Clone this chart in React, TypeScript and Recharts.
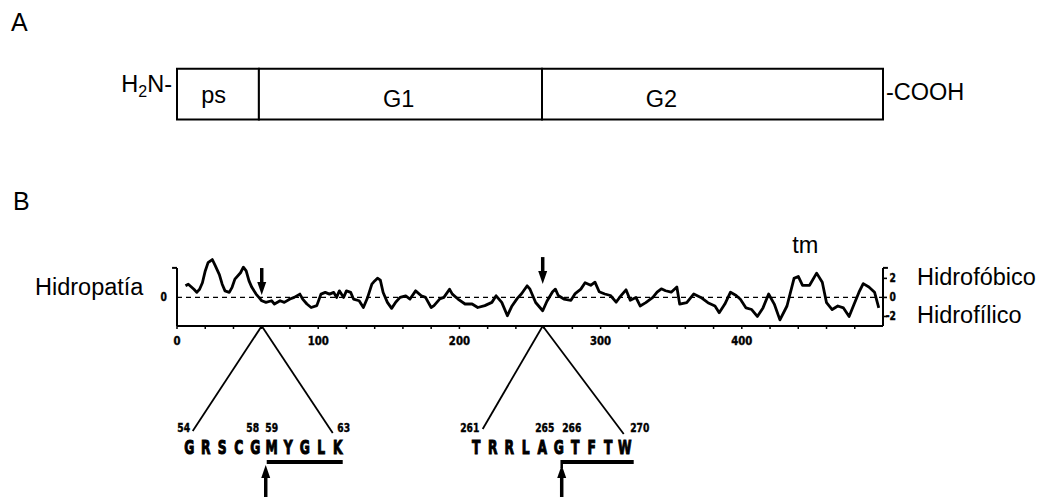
import React from "react";
import {
    LineChart,
    Line,
    XAxis,
    YAxis,
    ReferenceLine,
    ReferenceArea,
    ReferenceDot
} from "recharts";

// hydropathy profile (residue number, Kyte-Doolittle value)
const residues = [
    6, 8, 12, 14, 16, 18, 20, 22, 25, 27, 30, 32,
    34, 37, 39, 41, 45, 47, 49, 51, 53, 56, 58, 60,
    63, 67, 69, 73, 76, 80, 83, 87, 89, 92, 95, 99,
    102, 105, 108, 111, 113, 115, 118, 120, 123, 125, 129, 132,
    135, 138, 140, 142, 144, 146, 149, 152, 155, 158, 162, 165,
    169, 173, 176, 180, 182, 186, 189, 193, 195, 199, 204, 209,
    213, 218, 223, 226, 230, 234, 237, 241, 244, 248, 250, 254,
    259, 262, 266, 268, 270, 274, 279, 282, 286, 289, 293, 296,
    299, 303, 307, 311, 314, 318, 321, 325, 328,
    332, 337, 340, 343, 346, 350, 354, 356, 361, 366,
    371, 376, 381, 384, 388, 392, 396, 399, 403, 407,
    411, 415, 419, 423, 427, 432, 437, 440, 443, 448,
    453, 457, 460, 464, 468, 472, 476, 479, 483, 486,
    490, 494, 497
];
const hydropathy = [
    1.22, 1.39, 0.86, 0.53, 0.86, 1.54, 2.78, 3.65, 3.98, 3.36, 2.4, 1.39,
    0.69, 0.53, 1.06, 1.92, 2.59, 3.17, 2.78, 1.73, 1.06, 0.35, 0, -0.35,
    -0.52, -0.35, -0.69, -0.35, -0.52, -0.17, 0, 0.35, -0.17, -0.69, -1.06, -0.86,
    0.35, 0.53, 0.35, 0.53, 0, 0.69, 0, 0.69, 0.53, -0.17, -0.35, -1.06,
    0, 1.39, 1.73, 2.02, 1.82, 0.52, -0.52, -1.15, -0.48, 0, 0.17, -0.17,
    0.69, 0.17, 0, -1.06, -0.86, -0.17, 0, 0.86, 0.35, -0.17, -0.69, -0.69,
    -1.06, -0.86, -0.52, 0.17, -0.52, -1.92, -0.96, -0.1, 0.38, 1.22, 0.86, -0.53,
    -1.4, -0.4, 0.6, 0.87, 0.2, -0.17, -0.3, 0.4, 0.87, 1.55, 1.27, 1.6,
    0.6, 0.36, 0.2, -0.5, 0.1, 0.8, -0.3, 0, -0.9,
    -0.55, 0, 0.55, 0.9, 0.7, 0.55, 1.1, -0.7, -0.55, 0.36,
    0, -0.55, -0.9, -1.6, -0.7, 0.55, 0.2, -0.2, -1.1, -1.27,
    -2.0, -1.1, 0.36, -0.7, -2.36, -0.9, 2.0, 2.2, 1.27, 1.27,
    2.55, 1.6, -0.55, -1.27, -0.9, -1.1, -2.0, -0.9, 0.55, 1.45,
    1.1, 0.55, -1.1
];

// protein domains (panel A), on the same residue scale as the profile
const domainNames = ["ps", "G1", "G2"];
const domainStart = [0, 58, 258.5];
const domainEnd = [58, 258.5, 500];
const domainLabelAt = [26, 157, 343];

// axis ticks
const xTicks = [0, 20, 40, 60, 80, 100, 120, 140, 160, 180, 200, 220, 240, 260, 280, 300, 320, 340, 360, 380, 400, 420, 440, 460, 480];
const leftTicks = [0];
const rightTicks = [-2, 0, 2];
const rightTickNames: Record<number, string> = { 2: "Hidrofóbico", [-2]: "Hidrofílico" };

// cleavage sites as drawn on the axis, and the expanded sequences
const cutSites = [60, 259];
const arrowTips = [0.25, 1.4];
const sequences = ["GRSCGMYGLK", "TRRLAGTFTW"];
const seqNumbers = [["54", "58", "59", "63"], ["261", "265", "266", "270"]];
const tmAt = 445;

const data = residues.map((r, i) => ({ r, h: hydropathy[i] }));

const FONT = "'Liberation Sans', Arial, Helvetica, sans-serif";
const NARROW = "'DejaVu Sans Condensed', 'Liberation Sans Narrow', sans-serif";
const X_MAX = 500;
const Y_MIN = -3;
const Y_MAX = 4.4;
const AXIS_TOP = 3.1;
const BOX_LOW = 18.67;
const BOX_HIGH = 24;

// pixel layout of the two sequence callouts, relative to their point on the axis
const calloutLayout = [
    {
        left: [-69, 105], right: [71, 107], nums: [-78, -9, 10, 82],
        letterX: -72.5, under: [5, 81], arrowX: 4, hook: false
    },
    {
        left: [-60, 103], right: [81, 108], nums: [-73, 2, 29, 97],
        letterX: -66.5, under: [19, 91], arrowX: 19, hook: true
    }
];

const heavy = { fontFamily: NARROW, fontWeight: 700 };

const renderCallout = (k: number) => (p: any) => {
    const { cx, cy } = p;
    const c = calloutLayout[k];
    const ax = cx + c.arrowX;
    const tip = cy + 139;
    return (
        <g>
            <line x1={cx} y1={cy} x2={cx + c.left[0]} y2={cy + c.left[1]} stroke="#000" strokeWidth={1.8} />
            <line x1={cx} y1={cy} x2={cx + c.right[0]} y2={cy + c.right[1]} stroke="#000" strokeWidth={1.8} />
            {seqNumbers[k].map((t, i) => (
                <text key={i} transform={`translate(${cx + c.nums[i]},${cy + 106}) scale(0.85,1)`} textAnchor="middle"
                    style={{ ...heavy, fontSize: 12 }} fill="#000" stroke="#000" strokeWidth={0.4}>{t}</text>
            ))}
            {sequences[k].split("").map((ch, i) => (
                <text key={i} transform={`translate(${cx + c.letterX + i * 16.5},${cy + 128}) scale(0.72,1)`}
                    textAnchor="middle" style={{ ...heavy, fontSize: 19 }} fill="#000" stroke="#000" strokeWidth={1}>{ch}</text>
            ))}
            <line x1={cx + c.under[0]} y1={cy + 136} x2={cx + c.under[1]} y2={cy + 136} stroke="#000" strokeWidth={4} />
            {c.hook && (
                <line x1={cx + c.under[0]} y1={cy + 134} x2={cx + c.under[0]} y2={cy + 142} stroke="#000" strokeWidth={2.5} />
            )}
            <line x1={ax} y1={tip + 8} x2={ax} y2={cy + 180} stroke="#000" strokeWidth={3.5} />
            <polygon points={`${ax - 4.5},${tip + 13} ${ax + 4.5},${tip + 13} ${ax},${tip}`} fill="#000" />
        </g>
    );
};

const renderDownArrow = (len: number) => (p: any) => {
    const { cx, cy } = p;
    return (
        <g>
            <line x1={cx} y1={cy - len} x2={cx} y2={cy - 8} stroke="#000" strokeWidth={3.5} />
            <polygon points={`${cx - 4.5},${cy - 13} ${cx + 4.5},${cy - 13} ${cx},${cy}`} fill="#000" />
        </g>
    );
};

const renderRightTick = (v: number) => (p: any) => {
    const { cx, cy } = p;
    return (
        <g>
            <line x1={cx} y1={cy} x2={cx + 4} y2={cy} stroke="#000" strokeWidth={1.6} />
            <text transform={`translate(${cx + 13},${cy + 4}) scale(0.85,1)`} textAnchor="end" fill="#000"
                stroke="#000" strokeWidth={0.4} style={{ ...heavy, fontSize: 12 }}>{v < 0 ? "-" + Math.abs(v) : v}</text>
            {rightTickNames[v] && (
                <text x={cx + 34} y={cy + 6.5} fill="#000" style={{ fontFamily: FONT, fontSize: 23.5 }}>{rightTickNames[v]}</text>
            )}
        </g>
    );
};

const XTick = (props: any) => {
    const { x, y, payload } = props;
    if (payload.value % 100 !== 0) return <g />;
    return (
        <text transform={`translate(${x},${y + 14}) scale(0.9,1)`} textAnchor="middle" fill="#000"
            stroke="#000" strokeWidth={0.4} style={{ ...heavy, fontSize: 12.5 }}>{payload.value}</text>
    );
};

const LeftTick = (props: any) => {
    const { x, y, payload } = props;
    return (
        <text transform={`translate(${x},${y + 4}) scale(0.85,1)`} textAnchor="end" fill="#000"
            stroke="#000" strokeWidth={0.4} style={{ ...heavy, fontSize: 12 }}>{payload.value}</text>
    );
};

const App: React.FC = () => {
    return (
        <div style={{ position: "absolute", left: 0, top: 0, width: 1040, height: 497, background: "#fff" }}>
            <div style={{ position: "absolute", left: 11, top: 10, fontFamily: FONT, fontSize: 25, lineHeight: "25px" }}>A</div>
            <div style={{ position: "absolute", left: 13, top: 189, fontFamily: FONT, fontSize: 25, lineHeight: "25px" }}>B</div>
            <LineChart width={1040} height={497} data={data} margin={{ top: 255.5, right: 157, bottom: 141, left: 0 }}>
                <XAxis
                    dataKey="r"
                    type="number"
                    domain={[0, X_MAX]}
                    ticks={xTicks}
                    interval={0}
                    height={30}
                    tickSize={3}
                    axisLine={{ stroke: "#000", strokeWidth: 2 }}
                    tickLine={{ stroke: "#000", strokeWidth: 1.5 }}
                    tick={<XTick />}
                />
                <YAxis
                    type="number"
                    domain={[Y_MIN, Y_MAX]}
                    ticks={leftTicks}
                    width={177}
                    axisLine={false}
                    tickLine={false}
                    tickSize={4}
                    tickMargin={6}
                    tick={<LeftTick />}
                />

                {/* axis brackets */}
                <ReferenceLine segment={[{ x: 0, y: Y_MIN }, { x: 0, y: AXIS_TOP }]} stroke="#000" strokeWidth={2} ifOverflow="visible" />
                <ReferenceLine segment={[{ x: -3.5, y: AXIS_TOP }, { x: 0, y: AXIS_TOP }]} stroke="#000" strokeWidth={2} ifOverflow="visible" />
                <ReferenceLine segment={[{ x: X_MAX, y: Y_MIN }, { x: X_MAX, y: AXIS_TOP }]} stroke="#000" strokeWidth={2} ifOverflow="visible" />
                <ReferenceLine segment={[{ x: X_MAX, y: AXIS_TOP }, { x: X_MAX + 3.5, y: AXIS_TOP }]} stroke="#000" strokeWidth={2} ifOverflow="visible" />
                <ReferenceLine y={0} stroke="#000" strokeWidth={1.3} strokeDasharray="5 4" />
                {rightTicks.map((t) => (
                    <ReferenceDot key={"t" + t} x={X_MAX} y={t} r={0} ifOverflow="visible" shape={renderRightTick(t)} />
                ))}

                {/* panel A: domain diagram */}
                {domainNames.map((n, i) => (
                    <ReferenceArea
                        key={n}
                        x1={domainStart[i]}
                        x2={domainEnd[i]}
                        y1={BOX_LOW}
                        y2={BOX_HIGH}
                        ifOverflow="visible"
                        fill="#fff"
                        fillOpacity={1}
                        stroke="#000"
                        strokeWidth={2}
                    />
                ))}
                {domainNames.map((n, i) => (
                    <ReferenceDot key={"l" + n} x={domainLabelAt[i]} y={(BOX_LOW + BOX_HIGH) / 2} r={0} ifOverflow="visible"
                        shape={(p: any) => (
                            <text x={p.cx} y={p.cy + (i === 0 ? 9 : 12.5)} textAnchor="middle" fill="#000"
                                style={{ fontFamily: FONT, fontSize: 23.5 }}>{n}</text>
                        )} />
                ))}
                <ReferenceDot x={0} y={(BOX_LOW + BOX_HIGH) / 2} r={0} ifOverflow="visible"
                    shape={(p: any) => (
                        <text x={p.cx - 5} y={p.cy - 2} textAnchor="end" fill="#000" style={{ fontFamily: FONT, fontSize: 23.5 }}>
                            H<tspan fontSize={16} dy={5}>2</tspan><tspan dy={-5}>N-</tspan>
                        </text>
                    )} />
                <ReferenceDot x={X_MAX} y={(BOX_LOW + BOX_HIGH) / 2} r={0} ifOverflow="visible"
                    shape={(p: any) => (
                        <text x={p.cx + 3} y={p.cy + 6} fill="#000" style={{ fontFamily: FONT, fontSize: 23.5 }}>-COOH</text>
                    )} />

                {/* panel B labels */}
                <ReferenceDot x={0} y={0} r={0} ifOverflow="visible"
                    shape={(p: any) => (
                        <text x={p.cx - 142} y={p.cy - 2.5} fill="#000" style={{ fontFamily: FONT, fontSize: 23.5 }}>Hidropatía</text>
                    )} />
                <ReferenceDot x={tmAt} y={Y_MAX} r={0} ifOverflow="visible"
                    shape={(p: any) => (
                        <text x={p.cx} y={p.cy - 3} textAnchor="middle" fill="#000" style={{ fontFamily: FONT, fontSize: 23.5 }}>tm</text>
                    )} />

                <Line
                    type="linear"
                    dataKey="h"
                    stroke="#000"
                    strokeWidth={2.8}
                    strokeLinejoin="round"
                    dot={false}
                    activeDot={false}
                    isAnimationActive={false}
                />

                {cutSites.map((s, i) => (
                    <ReferenceDot key={"a" + i} x={s} y={arrowTips[i]} r={0} ifOverflow="visible"
                        shape={renderDownArrow(27)} />
                ))}
                {cutSites.map((s, i) => (
                    <ReferenceDot key={"c" + i} x={s} y={Y_MIN} r={0} ifOverflow="visible" shape={renderCallout(i)} />
                ))}
            </LineChart>
        </div>
    );
};

export default App;
